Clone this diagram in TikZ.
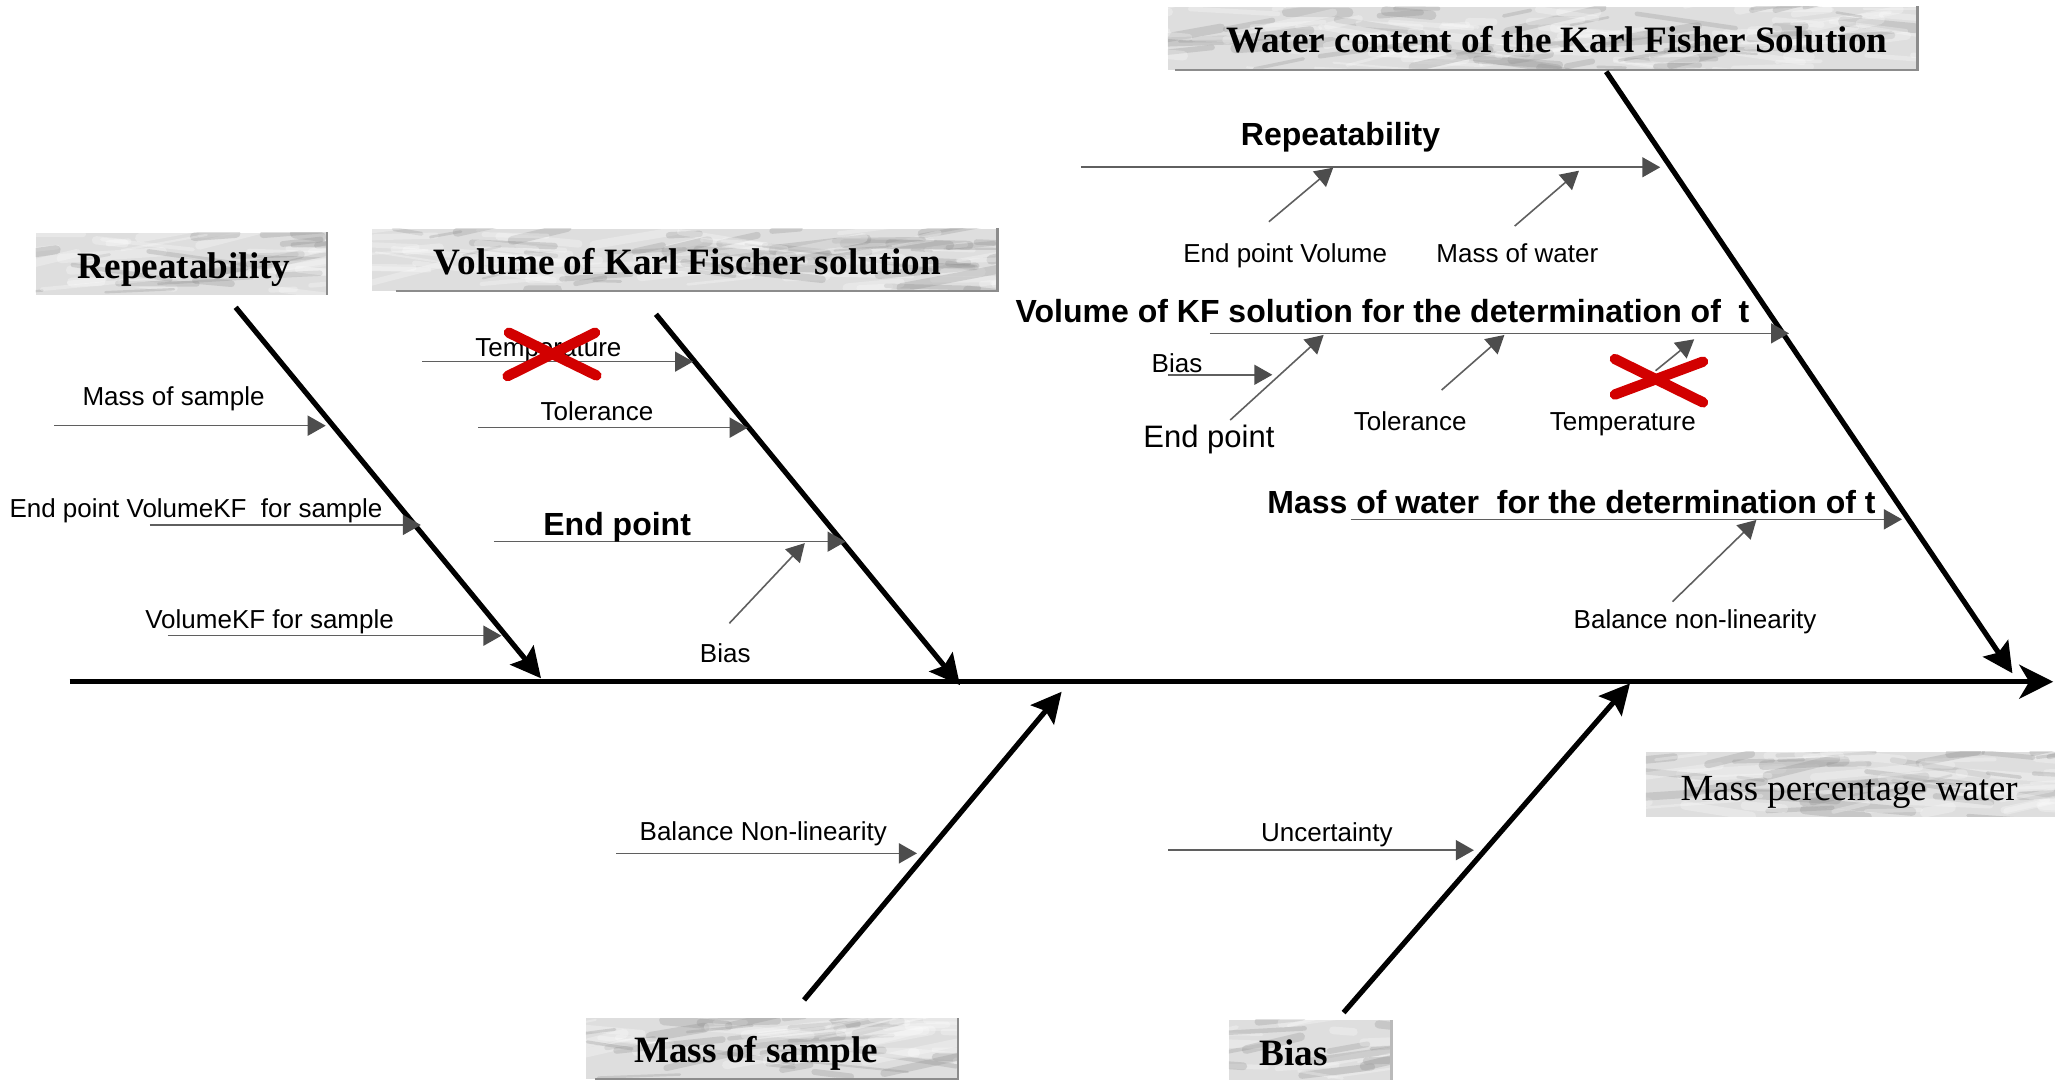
\documentclass[tikz,border=0pt]{standalone}
\usepackage{fontspec}
\setmainfont{Liberation Sans}
\newfontfamily\boxserif{Liberation Serif}
\usetikzlibrary{arrows.meta}

\definecolor{mbase}{RGB}{222,222,222}
\definecolor{mvein}{RGB}{140,140,140}
\definecolor{medge}{RGB}{140,140,140}
\definecolor{sline}{RGB}{95,95,95}
\definecolor{shead}{RGB}{77,77,77}
\definecolor{xred}{RGB}{210,0,0}
\newcommand\pxu{0.6575pt}

\begin{document}
\begin{tikzpicture}[x=0.6575pt, y=-0.6575pt,
  marblebox/.style={inner sep=0pt, fill=mbase,
    path picture={
      \pgfpointanchor{path picture bounding box}{south west}\pgfgetlastxy{\mxa}{\mya}
      \pgfpointanchor{path picture bounding box}{north east}\pgfgetlastxy{\mxb}{\myb}
      \pgfmathtruncatemacro{\nst}{(\mxb-\mxa)*(\myb-\mya)/90}
      \foreach \k in {1,...,\nst}{
        \pgfmathsetmacro{\sx}{\mxa-20+rnd*(\mxb-\mxa+20)}
        \pgfmathsetmacro{\sy}{\mya+rnd*(\myb-\mya)}
        \pgfmathsetmacro{\sl}{10+rnd*45}
        \pgfmathsetmacro{\sa}{-10+rnd*25}
        \pgfmathsetmacro{\sw}{1+rnd*4}
        \pgfmathsetmacro{\sc}{rnd}
        \ifdim\sc pt<0.6pt\def\scol{white}\else\def\scol{mvein}\fi
        \draw[\scol, line width=\sw pt, opacity=0.28, line cap=round]
          (\sx pt,\sy pt) -- ++(\sa:\sl pt);
      }
    }},
  boxedge/.style={draw=medge, line width=1.3pt},
  boxtext/.style={font=\boxserif\bfseries\fontsize{18.6}{22}\selectfont, inner sep=0pt, anchor=base},
  boxplain/.style={font=\boxserif\fontsize{18.4}{22}\selectfont, inner sep=0pt, anchor=base},
  lab/.style={font=\fontsize{13}{15}\selectfont, inner sep=0pt, anchor=base},
  blab/.style={font=\bfseries\fontsize{16}{19}\selectfont, inner sep=0pt, anchor=base},
  mlab/.style={font=\fontsize{15.5}{18}\selectfont, inner sep=0pt, anchor=base},
  spine/.style={line width=2.3pt, -{Stealth[length=17pt,width=17pt,inset=5pt]}},
  bone/.style={line width=2.6pt, -{Stealth[length=15pt,width=15pt,inset=2.5pt]}},
  sarrow/.style={draw=sline, line width=0.8pt, -{Triangle[length=9pt,width=10pt,color=shead]}},
  redx/.style={draw=xred, line width=5.2pt, line cap=round}
]
\useasboundingbox (0,0) rectangle (1568,821);
\pgfmathsetseed{1234}

% ---- marble label boxes ----
\node[marblebox, minimum width={221.5*\pxu}, minimum height={47*\pxu}] (boxRep) at (137.75,200.5) {};
\node[marblebox, minimum width={475*\pxu}, minimum height={47*\pxu}] (boxVol) at (520.5,197.5) {};
\node[marblebox, minimum width={570*\pxu}, minimum height={48*\pxu}] (boxWat) at (1173,29) {};
\node[marblebox, minimum width={282.8*\pxu}, minimum height={46.3*\pxu}] (boxMas) at (586.9,797.55) {};
\node[marblebox, minimum width={123.5*\pxu}, minimum height={45.4*\pxu}] (boxBia) at (996.15,798.3) {};
\node[marblebox, minimum width={311*\pxu}, minimum height={49.4*\pxu}] (boxOut) at (1407.1,596.3) {};

\draw[boxedge] (boxRep.south east) -- (boxRep.north east);
\draw[boxedge] ([xshift=12pt]boxVol.south west) -- (boxVol.south east) -- (boxVol.north east);
\draw[boxedge] ([xshift=4pt]boxWat.south west) -- (boxWat.south east) -- (boxWat.north east);
\draw[boxedge] ([xshift=5pt]boxMas.south west) -- (boxMas.south east) -- (boxMas.north east);
\draw[boxedge, draw=medge!60] (boxBia.south east) -- (boxBia.north east);

\node[boxtext] (tRep) at (140,211.4) {Repeatability};
\node[boxtext] (tVol) at (522.8,208.8) {Volume of Karl Fischer solution};
\node[boxtext] (tWat) at (1183.8,40.3) {Water content of the Karl Fisher Solution};
\node[boxtext] (tMas) at (575,808.3) {Mass of sample};
\node[boxtext] (tBia) at (983.8,810) {Bias};
\node[boxplain] (tOut) at (1406.1,609) {Mass percentage water};

% ---- spine and main bones ----
\coordinate (sp0) at (53,518.4);
\coordinate (sp1) at (1561.3,518.4);
\coordinate (b1s) at (179.2,233.7);  \coordinate (b1e) at (411.4,515.8);
\coordinate (b2s) at (498.8,239);    \coordinate (b2e) at (730,521);
\coordinate (b3s) at (1221.4,54.5);  \coordinate (b3e) at (1530.3,512);
\coordinate (b4s) at (611.4,760.4);  \coordinate (b4e) at (807.3,526);
\coordinate (b5s) at (1021.7,770);   \coordinate (b5e) at (1239.5,519.6);

\draw[spine] (sp0) -- (sp1);
\draw[bone] (b1s) -- (b1e);
\draw[bone] (b2s) -- (b2e);
\draw[bone] (b3s) -- (b3e);
\draw[bone] (b4s) -- (b4e);
\draw[bone] (b5s) -- (b5e);

% ---- repeatability branch ----
\coordinate (r1s) at (41.3,323.7);  \coordinate (r1e) at (247.7,323.7);
\coordinate (r2s) at (114,399.2);   \coordinate (r2e) at (320,399.2);
\coordinate (r3s) at (127.7,483.4); \coordinate (r3e) at (381.3,483.4);
\draw[sarrow] (r1s) -- (r1e);
\draw[sarrow] (r2s) -- (r2e);
\draw[sarrow] (r3s) -- (r3e);
\node[lab] (lMs) at (132,308) {Mass of sample};
\node[lab] (lEpv) at (149,393.4) {End point VolumeKF~~for sample};
\node[lab] (lVs) at (205,478.3) {VolumeKF for sample};

% ---- volume of KF solution branch ----
\coordinate (v1s) at (321,275);     \coordinate (v1e) at (527,275);
\coordinate (v2s) at (363.5,325.2); \coordinate (v2e) at (568.6,325.2);
\coordinate (v3s) at (375.6,411.9); \coordinate (v3e) at (643,411.9);
\coordinate (v4s) at (554.6,474);   \coordinate (v4e) at (612,413);
\draw[sarrow] (v1s) -- (v1e);
\draw[sarrow] (v2s) -- (v2e);
\draw[sarrow] (v3s) -- (v3e);
\draw[sarrow] (v4s) -- (v4e);
\node[lab] (lTemp1) at (417,271) {Temperature};
\node[lab] (lTol1) at (454,320) {Tolerance};
\node[blab] (lEp1) at (469.3,407.3) {End point};
\node[lab] (lBias1) at (551.5,503.7) {Bias};

% ---- water content branch ----
\coordinate (w1s) at (822,127.2);     \coordinate (w1e) at (1262.5,127.2);
\coordinate (w2s) at (964.9,168.6);   \coordinate (w2e) at (1013.8,127.5);
\coordinate (w3s) at (1151.8,171.9);  \coordinate (w3e) at (1200.7,129.8);
\coordinate (w4s) at (920,253.5);     \coordinate (w4e) at (1360.4,253.5);
\coordinate (w5s) at (888,285);       \coordinate (w5e) at (967.5,285);
\coordinate (w6s) at (935.5,319.4);   \coordinate (w6e) at (1006.5,254.7);
\coordinate (w7s) at (1096.2,296.6);  \coordinate (w7e) at (1144,254.7);
\coordinate (w8s) at (1258.9,281.9);  \coordinate (w8e) at (1288.3,258);
\coordinate (w9s) at (1027,394.9);    \coordinate (w9e) at (1446.3,394.9);
\coordinate (w10s) at (1271.8,457.5); \coordinate (w10e) at (1335.6,395.4);
\foreach \n in {1,...,10}{\draw[sarrow] (w\n s) -- (w\n e);}
\node[blab] (lRep) at (1019.4,111) {Repeatability};
\node[lab] (lEPV) at (977.3,199.5) {End point Volume};
\node[lab] (lMw) at (1153.8,199.5) {Mass of water};
\node[blab] (lVkf) at (1051.3,245.3) {Volume of KF solution for the determination of~~t};
\node[lab] (lBias2) at (895,283) {Bias};
\node[mlab] (lEp2) at (919.3,340.2) {End point};
\node[lab] (lTol2) at (1072.4,327.5) {Tolerance};
\node[lab] (lTemp2) at (1234,327.5) {Temperature};
\node[blab] (lMwd) at (1195,390.3) {Mass of water~~for the determination of t};
\node[lab] (lBnl) at (1289,478.3) {Balance non-linearity};

% ---- lower branches ----
\coordinate (m1s) at (468.6,648.9); \coordinate (m1e) at (697.3,648.9);
\coordinate (u1s) at (888.4,646.5); \coordinate (u1e) at (1120.8,646.5);
\draw[sarrow] (m1s) -- (m1e);
\draw[sarrow] (u1s) -- (u1e);
\node[lab] (lBNl) at (580.4,639.3) {Balance Non-linearity};
\node[lab] (lUnc) at (1009,639.8) {Uncertainty};

% ---- struck-out causes ----
\coordinate (x1a) at (387,253); \coordinate (x1b) at (453.5,285.5);
\coordinate (x1c) at (386,286); \coordinate (x1d) at (452.5,253);
\draw[redx] (x1a) -- (x1b);
\draw[redx] (x1c) -- (x1d);
\coordinate (x2a) at (1228,273); \coordinate (x2b) at (1295,306);
\coordinate (x2c) at (1228,300); \coordinate (x2d) at (1295,275);
\draw[redx] (x2a) -- (x2b);
\draw[redx] (x2c) -- (x2d);
\end{tikzpicture}
\end{document}
